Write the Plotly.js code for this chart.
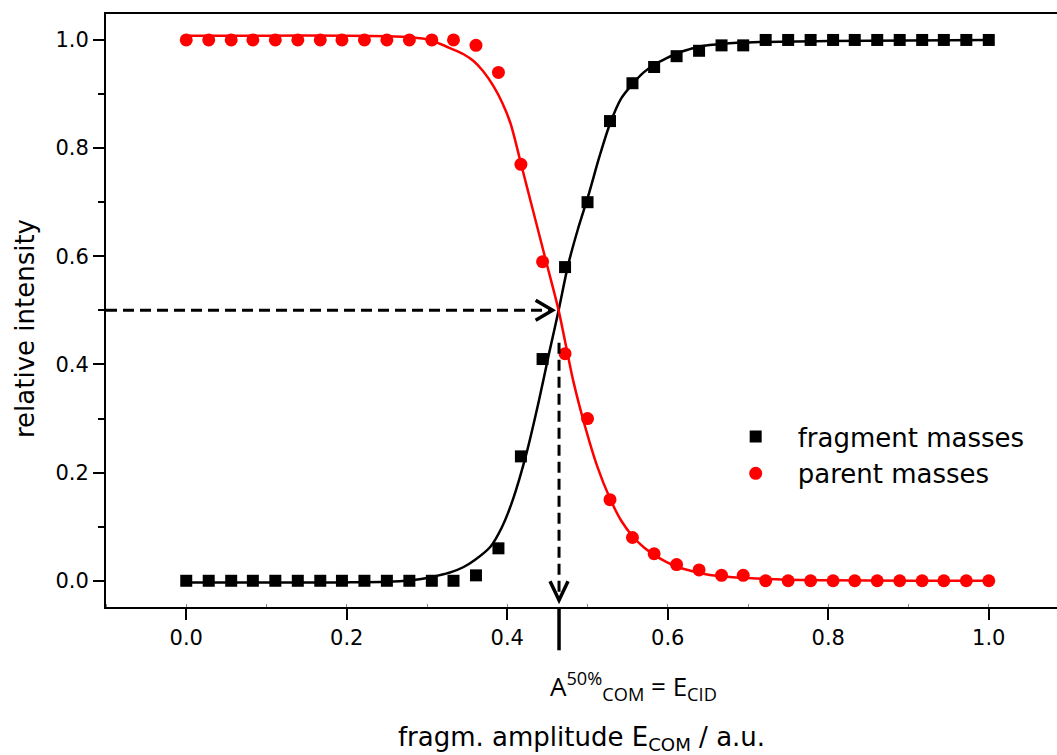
<!DOCTYPE html>
<html>
<head>
<meta charset="utf-8">
<script src="https://cdn.plot.ly/plotly-3.0.1.min.js"></script>
<style>html,body{margin:0;padding:0;background:#fff;}#chart{width:1057px;height:755px;}</style>
</head>
<body>
<div id="chart"></div>
<script>
// ---- data ----
const ampX = [0.000,0.028,0.056,0.083,0.111,0.139,0.167,0.194,0.222,0.250,0.278,0.306,0.333,
              0.361,0.389,0.417,0.444,0.472,0.500,0.528,0.556,0.583,0.611,0.639,0.667,0.694,
              0.722,0.750,0.778,0.806,0.833,0.861,0.889,0.917,0.944,0.972,1.000];
const fragmentY = [0,0,0,0,0,0,0,0,0,0,0,0,0,
                   0.01,0.06,0.23,0.41,0.58,0.70,0.85,0.92,0.95,0.97,0.98,0.99,0.99,
                   1,1,1,1,1,1,1,1,1,1,1];
const parentY = [1,1,1,1,1,1,1,1,1,1,1,1,1,
                 0.99,0.94,0.77,0.59,0.42,0.30,0.15,0.08,0.05,0.03,0.02,0.01,0.01,
                 0,0,0,0,0,0,0,0,0,0,0];
// fitted curves
const fragFitX = [0,0.1,0.2,0.25,0.28,0.30,0.312,0.33,0.345,0.36,0.379,0.393,0.407,0.424,0.439,0.452,
                  0.464,0.476,0.488,0.501,0.515,0.528,0.542,0.557,0.570,0.584,0.598,0.611,0.625,0.640,
                  0.669,0.715,0.8,0.9,1.0];
const fragFitY = [-0.003,-0.003,-0.003,-0.002,0.001,0.005,0.009,0.016,0.025,0.039,0.063,0.098,0.150,0.236,0.330,0.420,
                  0.500,0.585,0.650,0.712,0.785,0.845,0.892,0.920,0.940,0.955,0.966,0.975,0.982,0.988,
                  0.993,0.996,0.998,0.999,1.000];
const parFitX = [0,0.1,0.2,0.25,0.28,0.304,0.316,0.33,0.345,0.358,0.37,0.383,0.394,0.404,0.418,0.432,0.449,
                 0.464,0.482,0.497,0.512,0.528,0.542,0.557,0.570,0.584,0.598,0.611,0.625,0.640,0.669,
                 0.7,0.75,0.8,0.9,1.0];
const parFitY = [1.008,1.008,1.008,1.007,1.005,1.000,0.993,0.984,0.974,0.961,0.942,0.914,0.883,0.846,0.766,0.685,0.587,
                 0.500,0.371,0.285,0.212,0.152,0.111,0.081,0.062,0.047,0.035,0.026,0.020,0.014,0.008,
                 0.005,0.002,0.001,0.0,0.0];
const seriesNames = ['fragment masses','parent masses'];
const eCID = 0.4645;      // x of the 50 % crossing
const halfLevel = 0.5;

// ---- layout constants ----
const xRange = [-0.1, 1.085];
const yRange = [-0.0485, 1.048];
const FONT = 'DejaVu Sans, Liberation Sans, Arial, sans-serif';
const toPaperX = v => (v - xRange[0]) / (xRange[1] - xRange[0]);

const traces = [
  {x: fragFitX, y: fragFitY, mode: 'lines', line: {color: '#000', width: 2.5, shape: 'spline', smoothing: 0.8},
   showlegend: false, hoverinfo: 'skip'},
  {x: parFitX, y: parFitY, mode: 'lines', line: {color: '#ff0000', width: 2.5, shape: 'spline', smoothing: 0.8},
   showlegend: false, hoverinfo: 'skip'},
  {x: ampX, y: fragmentY, mode: 'markers', name: seriesNames[0],
   marker: {symbol: 'square', size: 12, color: '#000'}},
  {x: ampX, y: parentY, mode: 'markers', name: seriesNames[1],
   marker: {symbol: 'circle', size: 13, color: '#ff0000'}}
];

const layout = {
  width: 1057, height: 755,
  margin: {l: 106, r: 0, t: 14, b: 148, pad: 0},
  paper_bgcolor: '#fff', plot_bgcolor: '#fff',
  font: {family: FONT, color: '#000'},
  xaxis: {
    range: xRange, showgrid: false, zeroline: false,
    showline: true, linecolor: '#000', linewidth: 2, mirror: true,
    ticks: 'outside', ticklen: 11, tickwidth: 2, tickcolor: '#000',
    tick0: 0, dtick: 0.2, tickformat: '.1f',
    tickfont: {size: 21, family: FONT},
    minor: {dtick: 0.1, ticks: 'inside', ticklen: 3, tickwidth: 1, tickcolor: '#888'},
    title: {text: 'fragm. amplitude E<sub>COM</sub> / a.u.', font: {size: 26, family: FONT}, standoff: 83}
  },
  yaxis: {
    range: yRange, showgrid: false, zeroline: false,
    showline: true, linecolor: '#000', linewidth: 2,
    ticks: 'outside', ticklen: 11, tickwidth: 2, tickcolor: '#000',
    tick0: 0, dtick: 0.2, tickformat: '.1f',
    tickfont: {size: 21, family: FONT},
    minor: {dtick: 0.1, ticks: 'outside', ticklen: 6, tickwidth: 2, tickcolor: '#000'}
  },
  legend: {
    x: 0.639, y: 0.327, xanchor: 'left', yanchor: 'top',
    bgcolor: 'rgba(0,0,0,0)', borderwidth: 0,
    font: {size: 26, family: FONT}, itemwidth: 74, tracegroupgap: 0
  },
  shapes: [
    // horizontal dashed guide to the 50 % crossing
    {type: 'line', xref: 'x', yref: 'y', x0: xRange[0], x1: eCID - 0.008, y0: halfLevel, y1: halfLevel,
     line: {color: '#000', width: 3, dash: '11px,6px'}},
    {type: 'path', xref: 'x', yref: 'y', xsizemode: 'pixel', ysizemode: 'pixel',
     xanchor: eCID - 0.008, yanchor: halfLevel, path: 'M-17,10 L0,0 L-17,-10',
     line: {color: '#000', width: 3.5}},
    // vertical dashed guide down to the axis
    {type: 'line', xref: 'x', yref: 'y', x0: eCID, x1: eCID, y0: 0.44, y1: -0.036,
     line: {color: '#000', width: 3, dash: '11px,6px'}},
    {type: 'path', xref: 'x', yref: 'y', xsizemode: 'pixel', ysizemode: 'pixel',
     xanchor: eCID, yanchor: -0.036, path: 'M-9,19 L0,0 L9,19',
     line: {color: '#000', width: 3.5}},
    // solid marker below the axis
    {type: 'line', xref: 'paper', yref: 'paper', x0: toPaperX(eCID), x1: toPaperX(eCID), y0: 0, y1: -0.073,
     line: {color: '#000', width: 3.5}}
  ],
  annotations: [
    // y-axis title
    {xref: 'paper', yref: 'paper', x: -0.085, y: 0.469, xanchor: 'center', yanchor: 'middle',
     textangle: -90, showarrow: false, text: 'relative intensity',
     font: {size: 26, family: FONT, color: '#000'}},
    // E_CID label
    {xref: 'paper', yref: 'paper', x: toPaperX(eCID), y: -0.134, xanchor: 'left', yanchor: 'middle',
     xshift: -11, showarrow: false,
     text: 'A<sup>50%</sup><sub>COM</sub> = E<sub>CID</sub>',
     font: {size: 26, family: 'Open Sans, Noto Sans, sans-serif', color: '#000'}}
  ]
};

Plotly.newPlot('chart', traces, layout, {staticPlot: true, displayModeBar: false});
</script>
</body>
</html>
